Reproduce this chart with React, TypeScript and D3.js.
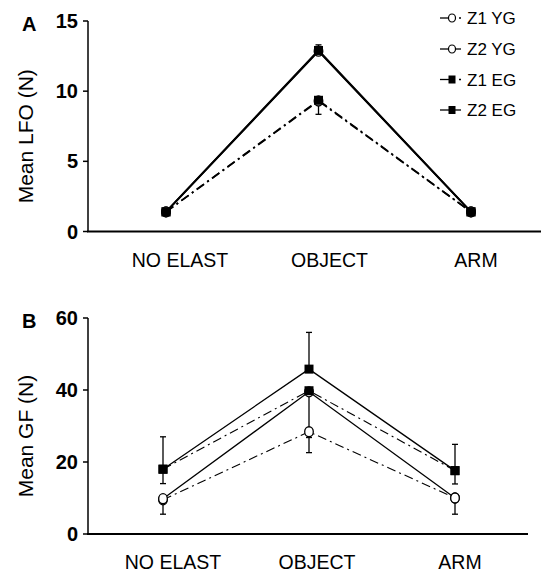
import React from "react";
import * as d3 from "d3";

const categories = ["NO ELAST", "OBJECT", "ARM"];
const seriesNames = ["Z1 YG", "Z2 YG", "Z1 EG", "Z2 EG"];
const seriesDashed = [true, false, true, false];
const seriesFilled = [false, false, true, true];

// Panel A: Mean LFO (N)
const lfoZ1YG = [1.4, 9.3, 1.4];
const lfoZ2YG = [1.4, 12.85, 1.4];
const lfoZ1EG = [1.4, 9.35, 1.4];
const lfoZ2EG = [1.4, 12.9, 1.4];
const lfoErrUp = [[0, 0.3, 0], [0, 0, 0], [0, 0, 0], [0, 0.4, 0]];
const lfoErrDown = [[0, 0, 0], [0, 0, 0], [0, 1.0, 0], [0, 0, 0]];
const lfoTicks = [0, 5, 10, 15];

// Panel B: Mean GF (N)
const gfZ1YG = [9.5, 28.4, 10];
const gfZ2YG = [9.8, 39.5, 10];
const gfZ1EG = [18, 39.8, 17.6];
const gfZ2EG = [18, 45.8, 17.6];
const gfErrUp = [[0, 0, 0], [0, 0, 0], [0, 0, 0], [9, 10.2, 7.3]];
const gfErrDown = [[4, 5.8, 4.5], [0, 0, 0], [4, 13, 3.7], [0, 0, 0]];
const gfTicks = [0, 20, 40, 60];

const DASH = "9,4,2,4";
const FONT = "Liberation Sans, Arial, sans-serif";

type PanelProps = {
  letter: string;
  yLabel: string;
  values: number[][];
  errUp: number[][];
  errDown: number[][];
  ticks: number[];
  yMax: number;
  top: number;
  bottom: number;
  axisRight: number;
  xRange: [number, number];
  thick: number;
  labelDx: number[];
};

function Panel(p: PanelProps) {
  const axisX = 88;
  const y = d3.scaleLinear().domain([0, p.yMax]).range([p.bottom, p.top]);
  const x = d3.scalePoint<string>().domain(categories).range(p.xRange).padding(0);
  const line = d3
    .line<number>()
    .x((_, i) => x(categories[i]) as number)
    .y((v) => y(v));
  const order = [0, 1, 2, 3];
  return (
    <g>
      <line x1={axisX} x2={axisX} y1={p.top} y2={p.bottom} stroke="#000" strokeWidth={1.5} />
      <line x1={axisX - 1} x2={p.axisRight} y1={p.bottom} y2={p.bottom} stroke="#000" strokeWidth={2} />
      {p.ticks.map((t) => (
        <g key={t}>
          <line x1={axisX - 5} x2={axisX} y1={y(t)} y2={y(t)} stroke="#000" strokeWidth={1.5} />
          <text
            x={78}
            y={y(t) + 7}
            textAnchor="end"
            fontFamily={FONT}
            fontSize={20}
            fontWeight="bold"
          >
            {t}
          </text>
        </g>
      ))}
      <text
        transform={`translate(33,${(p.top + p.bottom) / 2 + 10}) rotate(-90)`}
        textAnchor="middle"
        fontFamily={FONT}
        fontSize={21}
      >
        {p.yLabel}
      </text>
      <text x={22} y={p.top + 10} fontFamily={FONT} fontSize={20} fontWeight="bold">
        {p.letter}
      </text>
      {categories.map((c, i) => (
        <text
          key={c}
          x={(x(c) as number) + p.labelDx[i]}
          y={p.bottom + 35}
          textAnchor="middle"
          fontFamily={FONT}
          fontSize={19.5}
        >
          {c}
        </text>
      ))}
      {order.map((s) =>
        p.values[s].map((v, i) => {
          const cx = x(categories[i]) as number;
          const els = [];
          if (p.errUp[s][i] > 0) {
            const ye = y(v + p.errUp[s][i]);
            els.push(
              <g key={`u${s}${i}`}>
                <line x1={cx} x2={cx} y1={y(v)} y2={ye} stroke="#000" strokeWidth={1.3} />
                <line x1={cx - 3} x2={cx + 3} y1={ye} y2={ye} stroke="#000" strokeWidth={1.3} />
              </g>
            );
          }
          if (p.errDown[s][i] > 0) {
            const ye = y(v - p.errDown[s][i]);
            els.push(
              <g key={`d${s}${i}`}>
                <line x1={cx} x2={cx} y1={y(v)} y2={ye} stroke="#000" strokeWidth={1.3} />
                <line x1={cx - 3} x2={cx + 3} y1={ye} y2={ye} stroke="#000" strokeWidth={1.3} />
              </g>
            );
          }
          return els;
        })
      )}
      {order.map((s) => (
        <path
          key={`l${s}`}
          d={line(p.values[s]) as string}
          fill="none"
          stroke="#000"
          strokeWidth={seriesDashed[s] ? p.thick * 0.85 : p.thick}
          strokeDasharray={seriesDashed[s] ? DASH : undefined}
        />
      ))}
      {order.map((s) =>
        p.values[s].map((v, i) => {
          const cx = x(categories[i]) as number;
          const cy = y(v);
          return seriesFilled[s] ? (
            <rect key={`m${s}${i}`} x={cx - 4.5} y={cy - 4.5} width={9} height={9} fill="#000" />
          ) : (
            <ellipse
              key={`m${s}${i}`}
              cx={cx}
              cy={cy}
              rx={4.3}
              ry={5}
              fill="#fff"
              stroke="#000"
              strokeWidth={1.3}
            />
          );
        })
      )}
    </g>
  );
}

function Legend() {
  const rowY = [18, 49, 79.5, 110];
  return (
    <g>
      {seriesNames.map((n, i) => {
        const yy = rowY[i];
        const mx = 452;
        return (
          <g key={n}>
            {seriesDashed[i] ? (
              <>
                <line x1={440} x2={mx} y1={yy} y2={yy} stroke="#000" strokeWidth={1.3} />
                <line x1={459} x2={461} y1={yy} y2={yy} stroke="#000" strokeWidth={1.3} />
              </>
            ) : (
              <line x1={440} x2={461} y1={yy} y2={yy} stroke="#000" strokeWidth={1.3} />
            )}
            {seriesFilled[i] ? (
              <rect x={mx - 3.5} y={yy - 4} width={7} height={8} fill="#000" />
            ) : (
              <ellipse cx={mx} cy={yy} rx={3.5} ry={4} fill="#fff" stroke="#000" strokeWidth={1.2} />
            )}
            <text x={467} y={yy + 6} fontFamily={FONT} fontSize={17}>
              {n}
            </text>
          </g>
        );
      })}
    </g>
  );
}

export default function App() {
  return (
    <svg
      width={543}
      height={575}
      style={{ position: "absolute", left: 0, top: 0, background: "#fff" }}
    >
      <rect width={543} height={575} fill="#fff" />
      <Panel
        letter="A"
        yLabel="Mean LFO (N)"
        values={[lfoZ1YG, lfoZ2YG, lfoZ1EG, lfoZ2EG]}
        errUp={lfoErrUp}
        errDown={lfoErrDown}
        ticks={lfoTicks}
        yMax={15}
        top={21}
        bottom={231.5}
        axisRight={541}
        xRange={[166, 471]}
        thick={2}
        labelDx={[14, 11, 5]}
      />
      <Panel
        letter="B"
        yLabel="Mean GF (N)"
        values={[gfZ1YG, gfZ2YG, gfZ1EG, gfZ2EG]}
        errUp={gfErrUp}
        errDown={gfErrDown}
        ticks={gfTicks}
        yMax={60}
        top={318}
        bottom={534}
        axisRight={528}
        xRange={[163, 455]}
        thick={1.3}
        labelDx={[10, 8, 5]}
      />
      <Legend />
    </svg>
  );
}
